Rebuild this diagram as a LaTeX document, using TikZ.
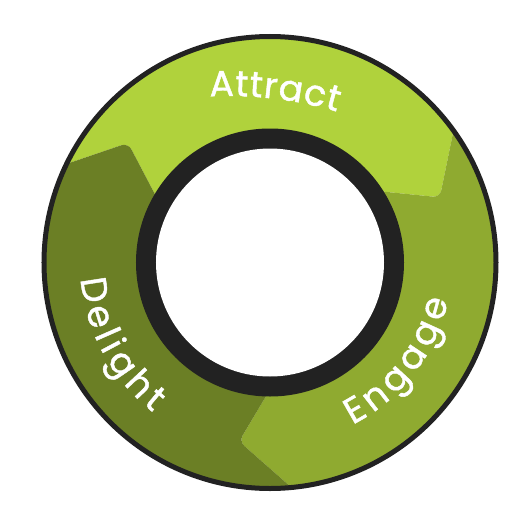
\documentclass[tikz,border=0pt]{standalone}
\usepackage{fontspec}
\usetikzlibrary{calc, decorations.text}
\newfontfamily\cyclefont{Poppins}[FakeBold=1.2]

\definecolor{attractgreen}{HTML}{B0D23C}
\definecolor{engagegreen}{HTML}{8FAA30}
\definecolor{delightgreen}{HTML}{6B7F25}
\definecolor{ringdark}{HTML}{222222}

\begin{document}
\begin{tikzpicture}[
  x=1pt, y=1pt,
  segment/.style = {rounded corners=7pt},
  wordpath/.style = {decorate, decoration={text along path, text align={fit to path},
    text color=white, text={|\cyclefont\fontsize{36}{40}\selectfont|#1}}}
]
  \useasboundingbox (-270,-246.5) rectangle (254,262.5);

  % centre and the chevron of each arrow head (inner, tip, outer)
  \coordinate (c) at (0,0);
  \coordinate (dI) at (148.75:136);
  \coordinate (dT) at (139.9:185.6);
  \coordinate (dO) at (153.1:222);
  \coordinate (aI) at (31.6:135);
  \coordinate (aT) at (21.0:181.9);
  \coordinate (aO) at (34.0:219);
  \coordinate (eI) at (268.6:132.5);
  \coordinate (eT) at (260.2:181.5);
  \coordinate (eO) at (273.9:219.7);
  \coordinate (dIx) at ($(dT)!1.35!(dI)$);
  \coordinate (dOx) at ($(dT)!1.4!(dO)$);
  \coordinate (aIx) at ($(aT)!1.35!(aI)$);
  \coordinate (aOx) at ($(aT)!1.4!(aO)$);
  \coordinate (eIx) at ($(eT)!1.35!(eI)$);
  \coordinate (eOx) at ($(eT)!1.4!(eO)$);

  \begin{scope}
    \clip (c) circle (226pt);
    % Attract
    \fill[attractgreen, segment] (c) -- (aIx) -- (aT) -- (aOx) -- (36:300) -- (90:300)
      -- (156:300) -- (dOx) -- (dT) -- (dIx) -- cycle;
    % Engage
    \fill[engagegreen, segment] (c) -- (eIx) -- (eT) -- (eOx) -- (-85:300) -- (-25:300)
      -- (36:300) -- (aOx) -- (aT) -- (aIx) -- cycle;
    % Delight
    \fill[delightgreen, segment] (c) -- (dIx) -- (dT) -- (dOx) -- (156:300) -- (210:300)
      -- (-85:300) -- (eOx) -- (eT) -- (eIx) -- cycle;
  \end{scope}

  % inner ring and outline
  \fill[ringdark] (c) circle (134pt);
  \fill[white] (c) circle (114pt);
  \draw[ringdark, line width=5pt] (c) circle (226pt);

  % words along the ring
  \coordinate (attc) at (-41,-213.5);
  \path[wordpath=Attract] (attc) ++(92.9:380) arc[start angle=92.9, end angle=73.5, radius=380];
  \path[wordpath=Engage] (c) ++(-63:182) arc[start angle=-63, end angle=-12, radius=182];
  \path[wordpath=Delight] (c) ++(185:190) arc[start angle=185, end angle=232, radius=190];
\end{tikzpicture}
\end{document}
